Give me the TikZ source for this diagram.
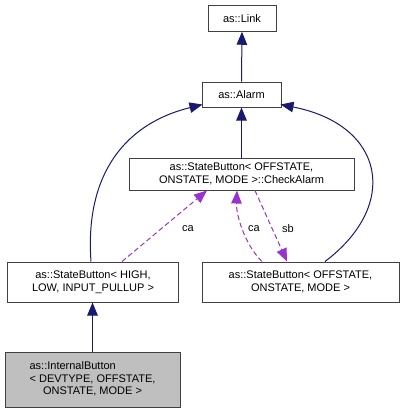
\documentclass[tikz,border=0pt]{standalone}
\usepackage{fontspec}
\setmainfont{Liberation Sans}
\usetikzlibrary{arrows.meta}
\definecolor{edgeblue}{RGB}{25,25,112}
\definecolor{edgepurple}{RGB}{154,50,205}
\begin{document}
\begin{tikzpicture}[x=1pt,y=-1pt,
 box/.style={draw=black!75, line width=1pt, fill=white, inner sep=0pt, align=center, font=\fontsize{11}{13.4}\selectfont},
 inh/.style={draw=edgeblue, line width=1pt, -{Triangle[length=13pt,width=10.5pt]}},
 use/.style={draw=edgepurple, line width=1pt, dash pattern=on 5pt off 3pt, -{Triangle[length=13pt,width=10.5pt]}},
 lbl/.style={font=\fontsize{11}{12}\selectfont, inner sep=0pt}]
\useasboundingbox (0,0) rectangle (404,413);
\node[box, minimum width=68pt, minimum height=25.5pt] (link) at (242,18.5) {as::Link};
\node[box, minimum width=79pt, minimum height=25pt] (alarm) at (241.5,94.5) {as::Alarm};
\node[box, minimum width=225pt, minimum height=32pt] (check) at (241.5,174) {as::StateButton< OFFSTATE,\\ ONSTATE, MODE >::CheckAlarm};
\node[box, minimum width=171pt, minimum height=40pt] (high) at (93,282) {as::StateButton< HIGH,\\ LOW, INPUT\_PULLUP >};
\node[box, minimum width=197pt, minimum height=40pt] (off) at (300.5,282) {as::StateButton< OFFSTATE,\\ ONSTATE, MODE >};
\node[box, fill=black!25, minimum width=175pt, minimum height=55pt] (internal) at (92.5,379.5) {\begin{tabular}{@{}c@{}}\multicolumn{1}{@{}l@{}}{as::InternalButton}\\[-1.2pt]< DEVTYPE, OFFSTATE,\\[-1.2pt]ONSTATE, MODE >\end{tabular}};
\draw[inh] (alarm.north) -- (link.south);
\draw[inh] (check.north) -- (alarm.south);
\draw[inh] (internal.north) -- (internal.north |- high.south);
\draw[inh] ([xshift=-2pt]high.north) .. controls (85,180) and (120,125) .. ([shift={(1,-3)}]alarm.south west);
\draw[inh] ([xshift=24.5pt]off.north) .. controls (400,205) and (385,125) .. ([shift={(-1,-3)}]alarm.south east);
\draw[use] ([xshift=29pt]high.north) -- ([xshift=-34.5pt]check.south);
\draw[use] ([xshift=-38.5pt]off.north) .. controls (245,245) and (236,215) .. ([xshift=-4.5pt]check.south);
\draw[use] ([xshift=13.5pt]check.south) -- ([xshift=-13.5pt]off.north);
\node[lbl] (l1) at (188,229) {ca};
\node[lbl] (l2) at (254,229) {ca};
\node[lbl] (l3) at (288,229) {sb};
\end{tikzpicture}
\end{document}
